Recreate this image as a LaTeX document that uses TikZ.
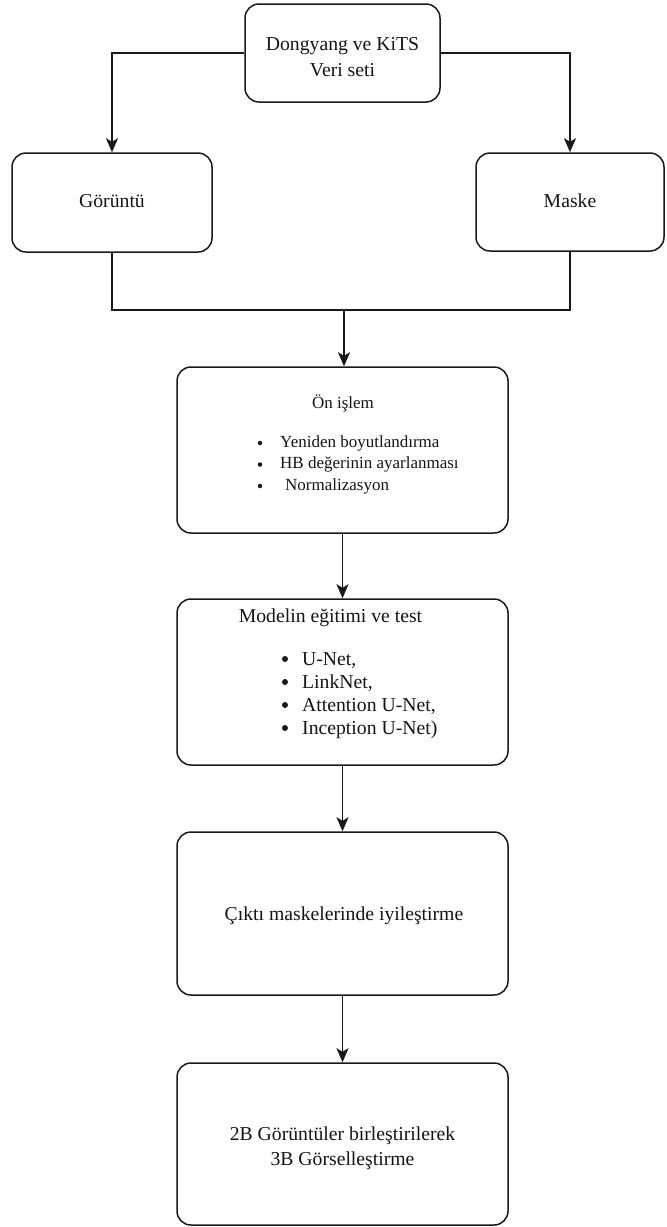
\documentclass[tikz,border=0pt]{standalone}
\usepackage{fontspec}
\setmainfont{Liberation Serif}
\newfontfamily\boxfont{Liberation Serif}
\usetikzlibrary{arrows.meta,calc}

\tikzset{
  flowbox/.style={draw=black!90, line width=1.5pt, rounded corners=14pt, inner sep=0pt},
  link/.style={draw=black!90, line width=1.5pt},
  arr/.style={link, -{Stealth[length=14pt,width=12pt,inset=3.5pt]}},
  txt/.style={inner sep=0pt, anchor=base, text=black!92, font=\boxfont\fontsize{19.7}{25}\selectfont},
  txtl/.style={txt, anchor=base west},
  smalltxt/.style={txt, font=\boxfont\fontsize{17}{21}\selectfont},
  smalltxtl/.style={smalltxt, anchor=base west},
  dot/.style={circle, fill=black!90, inner sep=0pt, minimum size=#1},
}

\begin{document}
\begin{tikzpicture}[x=1pt, y=-1pt]
\useasboundingbox (0,0) rectangle (667,1227);

% boxes
\node[flowbox, minimum width=195pt, minimum height=98pt]  (src)   at (342.5,53)   {};
\node[flowbox, minimum width=200pt, minimum height=99pt]  (gor)   at (112,202.5)  {};
\node[flowbox, minimum width=188pt, minimum height=98pt]  (mask)  at (570,202)    {};
\node[flowbox, minimum width=331pt, minimum height=166pt] (pre)   at (342.5,450)  {};
\node[flowbox, minimum width=331pt, minimum height=166pt] (model) at (342.5,682)  {};
\node[flowbox, minimum width=331pt, minimum height=163pt] (refine) at (342.5,913.5) {};
\node[flowbox, minimum width=331pt, minimum height=162pt] (viz)   at (342.5,1144) {};

% texts
\node[txt] (src1) at (342.5,50.5) {Dongyang ve KiTS};
\node[txt] (src2) at (342.5,76.5) {Veri seti};
\node[txt] (gort) at (112,207.5) {Görüntü};
\node[txt] (maskt) at (570,207.5) {Maske};

\node[smalltxt] (pret) at (343,408) {Ön işlem};
\node[dot=4.5pt] (pb1) at (260,443) {};
\node[dot=4.5pt] (pb2) at (260,464.5) {};
\node[dot=4.5pt] (pb3) at (260,486) {};
\node[smalltxtl] (pi1) at (280,447) {Yeniden boyutlandırma};
\node[smalltxtl] (pi2) at (280,468.5) {HB değerinin ayarlanması};
\node[smalltxtl] (pi3) at (285,490) {Normalizasyon};

\node[txt] (modt) at (330.5,622) {Modelin eğitimi ve test};
\node[dot=6pt] (mb1) at (285,659) {};
\node[dot=6pt] (mb2) at (285,682) {};
\node[dot=6pt] (mb3) at (285,705) {};
\node[dot=6pt] (mb4) at (285,728) {};
\node[txtl] (mi1) at (302,665) {U-Net,};
\node[txtl] (mi2) at (302,688) {LinkNet,};
\node[txtl] (mi3) at (302,711) {Attention U-Net,};
\node[txtl] (mi4) at (302,734) {Inception U-Net)};

\node[txt] (reft) at (344,920) {Çıktı maskelerinde iyileştirme};

\node[txt] (viz1) at (342.5,1140) {2B Görüntüler birleştirilerek};
\node[txt] (viz2) at (342.5,1165) {3B Görselleştirme};

% connectors
\coordinate (join) at (344,310);
\draw[arr] (src.west) -| (gor.north);
\draw[arr] (src.east) -| (mask.north);
\draw[link] (gor.south) |- (join) -| (mask.south);
\draw[arr] (join) -- (join |- pre.north);
\draw[arr] (pre.south) -- (model.north);
\draw[arr] (model.south) -- (refine.north);
\draw[arr] (refine.south) -- (viz.north);
\end{tikzpicture}
\end{document}
